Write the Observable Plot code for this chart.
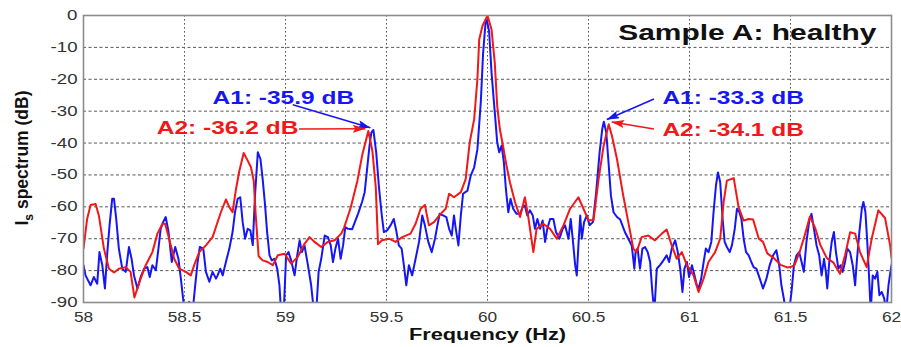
<!DOCTYPE html>
<html>
<head>
<meta charset="utf-8">
<script src="https://cdn.jsdelivr.net/npm/d3@7"></script>
<script src="https://cdn.jsdelivr.net/npm/@observablehq/plot@0.6"></script>
<style>
  body { margin: 0; background: #fff; }
  svg { display: block; }
</style>
</head>
<body>
<div id="chart"></div>
<script>
// Stator current spectrum around the 60 Hz fundamental, two measurements (A1 blue, A2 red)
const blueFreq = [
  58.000, 58.010, 58.035, 58.051, 58.068, 58.079, 58.093, 58.106, 58.118, 58.129, 58.142, 58.151, 58.162, 58.175, 58.192,
  58.209, 58.225, 58.238, 58.250, 58.267, 58.283, 58.300, 58.316, 58.328, 58.341, 58.358, 58.371, 58.382, 58.394, 58.407,
  58.421, 58.437, 58.454, 58.470, 58.482, 58.493, 58.503, 58.523, 58.540, 58.553, 58.565, 58.576, 58.593, 58.606, 58.623,
  58.639, 58.656, 58.664, 58.677, 58.689, 58.705, 58.722, 58.738, 58.750, 58.763, 58.776, 58.788, 58.800, 58.813, 58.826,
  58.838, 58.849, 58.863, 58.876, 58.887, 58.899, 58.909, 58.921, 58.932, 58.945, 58.959, 58.970, 58.978, 58.992, 59.003,
  59.015, 59.028, 59.045, 59.058, 59.070, 59.081, 59.094, 59.111, 59.127, 59.141, 59.152, 59.164, 59.177, 59.194, 59.210,
  59.224, 59.235, 59.247, 59.260, 59.273, 59.285, 59.296, 59.310, 59.330, 59.359, 59.379, 59.392, 59.404, 59.416, 59.425,
  59.435, 59.449, 59.462, 59.475, 59.487, 59.503, 59.520, 59.536, 59.548, 59.561, 59.575, 59.586, 59.598, 59.611, 59.627,
  59.644, 59.661, 59.677, 59.690, 59.707, 59.724, 59.740, 59.752, 59.763, 59.780, 59.796, 59.810, 59.823, 59.834, 59.843,
  59.856, 59.868, 59.879, 59.901, 59.917, 59.934, 59.950, 59.967, 59.978, 59.990, 59.997, 60.008, 60.020, 60.036, 60.048,
  60.058, 60.070, 60.081, 60.091, 60.103, 60.114, 60.127, 60.144, 60.161, 60.174, 60.185, 60.197, 60.210, 60.224, 60.235,
  60.247, 60.260, 60.273, 60.285, 60.296, 60.310, 60.326, 60.339, 60.356, 60.372, 60.384, 60.401, 60.412, 60.425, 60.434,
  60.442, 60.450, 60.459, 60.467, 60.478, 60.492, 60.505, 60.522, 60.538, 60.555, 60.568, 60.576, 60.588, 60.599, 60.611,
  60.624, 60.641, 60.657, 60.672, 60.680, 60.697, 60.714, 60.727, 60.733, 60.743, 60.755, 60.767, 60.780, 60.793, 60.805,
  60.816, 60.826, 60.838, 60.854, 60.871, 60.887, 60.899, 60.912, 60.929, 60.942, 60.954, 60.965, 60.975, 60.987, 60.998,
  61.012, 61.025, 61.036, 61.045, 61.058, 61.070, 61.081, 61.094, 61.108, 61.119, 61.131, 61.141, 61.152, 61.164, 61.174,
  61.185, 61.199, 61.210, 61.224, 61.235, 61.247, 61.257, 61.268, 61.280, 61.293, 61.306, 61.318, 61.331, 61.348, 61.364,
  61.381, 61.397, 61.414, 61.430, 61.444, 61.455, 61.467, 61.477, 61.493, 61.505, 61.517, 61.530, 61.543, 61.555, 61.566,
  61.579, 61.593, 61.604, 61.616, 61.629, 61.642, 61.654, 61.666, 61.675, 61.682, 61.692, 61.704, 61.715, 61.725, 61.737,
  61.748, 61.758, 61.770, 61.781, 61.795, 61.808, 61.820, 61.828, 61.841, 61.853, 61.861, 61.871, 61.881, 61.891, 61.897,
  61.907, 61.919, 61.930, 61.940, 61.952, 61.964, 61.974, 61.985, 61.997, 62.000
];
const blueDb = [
  -78.3, -81.5, -84.6, -82.0, -84.1, -74.2, -78.3, -85.6, -74.2, -65.8, -57.5, -57.5, -63.8, -73.1, -79.4,
  -80.4, -72.6, -76.3, -81.5, -85.6, -82.0, -79.4, -78.9, -82.0, -78.3, -79.9, -73.1, -66.9, -64.8, -63.2,
  -67.9, -77.3, -72.6, -76.3, -82.5, -88.8, -93.0, -89.8, -93.0, -84.6, -77.3, -72.6, -73.1, -80.4, -83.5,
  -80.4, -82.5, -81.5, -79.4, -81.5, -77.3, -73.1, -67.9, -61.7, -57.5, -57.0, -64.8, -70.0, -66.9, -67.4,
  -72.0, -56.5, -42.9, -45.0, -51.3, -59.6, -67.9, -75.2, -76.8, -76.3, -79.4, -84.6, -93.0, -92.0, -75.2,
  -74.2, -76.8, -81.5, -75.2, -70.5, -74.2, -72.1, -78.3, -84.6, -93.0, -93.0, -80.4, -76.3, -69.0, -69.5,
  -72.1, -77.3, -73.1, -70.0, -76.3, -72.1, -66.4, -66.9, -67.0, -62.2, -58.5, -55.4, -48.1, -40.8, -36.7,
  -35.9, -42.9, -53.3, -61.7, -67.9, -67.4, -65.8, -63.8, -67.4, -72.1, -73.1, -78.3, -84.6, -78.3, -81.5,
  -76.3, -71.0, -62.7, -65.8, -71.0, -74.2, -70.0, -65.8, -62.2, -62.7, -63.2, -66.9, -69.0, -62.7, -66.9,
  -72.1, -62.7, -55.9, -54.9, -50.2, -47.6, -42.0, -27.0, -12.0, -2.5, -1.5, -5.0, -17.9, -30.3, -39.8,
  -42.9, -40.8, -46.0, -54.4, -61.7, -57.5, -60.6, -62.2, -62.2, -60.1, -59.6, -62.7, -61.1, -62.7, -66.9,
  -63.8, -66.9, -64.3, -71.0, -66.9, -63.8, -63.8, -67.9, -70.0, -66.9, -65.8, -70.0, -63.8, -72.1, -78.3,
  -81.5, -72.1, -62.7, -70.0, -64.8, -62.7, -65.8, -64.8, -55.4, -42.9, -35.6, -33.3, -36.7, -46.0, -56.5,
  -61.7, -63.2, -64.0, -66.5, -67.9, -70.0, -72.1, -79.4, -74.2, -73.1, -79.4, -73.1, -72.6, -74.2, -77.3,
  -86.7, -93.0, -79.4, -78.3, -76.8, -75.2, -77.3, -73.1, -70.5, -74.2, -79.4, -86.7, -79.4, -77.3, -82.0,
  -78.3, -81.5, -84.6, -85.6, -82.5, -77.3, -73.1, -74.2, -71.0, -61.7, -53.3, -49.2, -52.3, -63.8, -71.0,
  -72.6, -74.2, -72.1, -66.9, -60.6, -61.7, -63.8, -70.0, -74.2, -75.2, -77.3, -79.0, -79.4, -82.5, -85.6,
  -82.5, -78.3, -75.2, -73.6, -78.3, -84.6, -88.8, -93.0, -93.0, -86.7, -78.3, -75.2, -74.2, -77.3, -80.4,
  -71.0, -64.3, -62.2, -66.9, -72.1, -75.2, -81.5, -76.3, -80.4, -85.6, -77.3, -71.0, -67.9, -74.2, -79.4,
  -78.3, -80.4, -77.3, -73.1, -74.2, -78.3, -84.6, -77.3, -67.9, -60.6, -58.5, -61.7, -72.1, -84.6, -93.0,
  -81.5, -82.5, -80.4, -87.7, -86.7, -88.8, -93.0, -84.6, -79.4, -78.3
];
const redFreq = [
  58.000, 58.018, 58.035, 58.060, 58.076, 58.101, 58.126, 58.151, 58.175, 58.209, 58.233, 58.252, 58.283, 58.308, 58.341,
  58.366, 58.391, 58.404, 58.424, 58.449, 58.474, 58.507, 58.531, 58.548, 58.573, 58.606, 58.639, 58.680, 58.705, 58.722,
  58.738, 58.755, 58.772, 58.793, 58.813, 58.829, 58.843, 58.852, 58.867, 58.887, 58.912, 58.937, 58.962, 58.995, 59.028,
  59.061, 59.094, 59.119, 59.144, 59.177, 59.210, 59.243, 59.276, 59.290, 59.323, 59.356, 59.381, 59.410, 59.430, 59.447,
  59.458, 59.478, 59.512, 59.545, 59.578, 59.619, 59.644, 59.669, 59.690, 59.710, 59.735, 59.768, 59.793, 59.810, 59.834,
  59.868, 59.892, 59.912, 59.934, 59.950, 59.959, 59.975, 60.000, 60.020, 60.036, 60.048, 60.061, 60.078, 60.094, 60.111,
  60.136, 60.161, 60.185, 60.202, 60.227, 60.243, 60.276, 60.310, 60.343, 60.376, 60.409, 60.450, 60.475, 60.500, 60.525,
  60.550, 60.575, 60.600, 60.616, 60.641, 60.672, 60.697, 60.722, 60.738, 60.763, 60.796, 60.829, 60.863, 60.887, 60.912,
  60.937, 60.962, 60.987, 61.020, 61.045, 61.070, 61.094, 61.127, 61.152, 61.169, 61.185, 61.219, 61.243, 61.268, 61.293,
  61.315, 61.343, 61.364, 61.385, 61.418, 61.451, 61.484, 61.500, 61.520, 61.546, 61.566, 61.596, 61.623, 61.648, 61.680,
  61.713, 61.745, 61.770, 61.795, 61.820, 61.844, 61.877, 61.902, 61.935, 61.968, 61.993, 62.000
];
const redDb = [
  -73.0, -63.8, -59.4, -59.1, -62.7, -73.1, -79.4, -80.6, -79.4, -78.9, -80.4, -88.4, -82.5, -78.3, -74.2,
  -68.4, -65.3, -65.3, -70.0, -76.3, -79.4, -80.4, -81.5, -78.3, -74.2, -72.1, -69.5, -61.7, -57.7, -60.1,
  -61.7, -54.4, -48.6, -43.1, -45.5, -47.6, -52.0, -62.0, -75.5, -76.8, -77.3, -78.3, -75.2, -74.7, -77.8,
  -75.7, -71.6, -69.5, -71.0, -72.6, -71.0, -70.5, -68.4, -66.5, -60.2, -51.8, -43.4, -36.2, -42.4, -53.9,
  -71.7, -70.5, -70.0, -71.0, -69.5, -68.4, -65.3, -60.6, -59.4, -65.8, -64.8, -62.2, -60.6, -55.9, -57.0,
  -55.4, -51.3, -39.8, -32.5, -20.0, -7.5, -3.3, 0.0, -4.4, -14.8, -28.3, -35.6, -41.3, -47.0, -52.3,
  -58.5, -63.2, -57.0, -63.2, -74.2, -66.9, -65.3, -66.9, -70.0, -65.8, -60.6, -57.0, -60.6, -64.2, -64.2,
  -51.3, -40.8, -34.1, -37.7, -45.0, -56.5, -64.8, -73.1, -74.2, -69.5, -69.0, -70.5, -68.4, -67.1, -72.1,
  -76.3, -74.2, -78.3, -81.5, -86.7, -82.5, -77.3, -74.2, -70.0, -58.5, -51.8, -51.0, -60.1, -64.3, -63.8,
  -64.0, -70.0, -71.0, -74.6, -76.1, -78.2, -79.0, -78.9, -78.3, -74.0, -69.9, -63.0, -66.8, -72.0, -76.1,
  -77.5, -81.0, -75.2, -68.0, -68.4, -74.2, -78.9, -70.0, -61.1, -63.5, -72.0, -76.0
];

const xTicks = [58, 58.5, 59, 59.5, 60, 60.5, 61, 61.5, 62];
const yTicks = [0, -10, -20, -30, -40, -50, -60, -70, -80, -90];

// Sideband peaks called out with arrows
const peakName = ["A1", "A2", "A1", "A2"];
const peakFreq = [59.435, 59.41, 60.576, 60.6];
const peakDb = [-35.9, -36.2, -33.3, -34.1];
const labelFreq = [58.639, 58.363, 60.866, 60.866];
const labelDb = [-27.8, -37.2, -27.8, -37.7];
const tailFreq = [59.036, 59.067, 60.824, 60.824];
const tailDb = [-28.0, -35.6, -26.2, -35.6];

const title = "Sample A: healthy";
const xLabel = "Frequency (Hz)";

const BLUE = "#1616f5";
const RED = "#f01818";
const seriesColor = {A1: BLUE, A2: RED};

const blue = blueFreq.map((f, i) => ({f, db: blueDb[i]}));
const red = redFreq.map((f, i) => ({f, db: redDb[i]}));
const peaks = peakName.map((name, i) => {
  const side = labelFreq[i] < peakFreq[i] ? -1 : 1;
  return {
    label: `${name}: ${peakDb[i].toFixed(1)} dB`,
    color: seriesColor[name],
    lf: labelFreq[i], ld: labelDb[i],
    tf: tailFreq[i], td: tailDb[i],
    hf: peakFreq[i] + side * 0.015, hd: peakDb[i] + 0.7
  };
});

const plot = Plot.plot({
  width: 901,
  height: 347,
  marginLeft: 83,
  marginRight: 10,
  marginTop: 15,
  marginBottom: 45,
  style: {fontFamily: "'Liberation Sans', Arial, sans-serif", fontSize: "14px", color: "#333", background: "#fff"},
  x: {domain: [58, 62], ticks: xTicks, tickSize: 0, tickPadding: 9, tickFormat: d => String(d), label: null},
  y: {domain: [-90, 0], ticks: yTicks, tickSize: 0, tickPadding: 6, tickFormat: d => String(d), label: null},
  color: {type: "identity"},
  marks: [
    Plot.ruleX(xTicks.slice(1, -1), {stroke: "#555", strokeWidth: 1, strokeDasharray: "1.6,2.4"}),
    Plot.ruleY(yTicks.slice(1, -1), {stroke: "#555", strokeWidth: 1, strokeDasharray: "3,2.5"}),
    Plot.line(blue, {x: "f", y: "db", stroke: BLUE, strokeWidth: 2, clip: true}),
    Plot.line(red, {x: "f", y: "db", stroke: RED, strokeWidth: 2, clip: true}),
    Plot.frame({stroke: "#8c8c8c", strokeWidth: 1.6}),
    Plot.link(peaks, {x1: "tf", y1: "td", x2: "hf", y2: "hd", stroke: "color", strokeWidth: 1.6}),
    Plot.text(peaks, {x: "lf", y: "ld", text: "label", fill: "color", textAnchor: "start", lineAnchor: "bottom", fontSize: 18, fontWeight: "bold"}),
    Plot.text([title], {text: d => d, frameAnchor: "top-right", dx: -15, dy: 24.6, textAnchor: "end", lineAnchor: "bottom", fontSize: 22, fontWeight: "bold", fill: "#111"}),
    Plot.text([xLabel], {text: d => d, frameAnchor: "bottom", dy: 37.5, lineAnchor: "bottom", fontSize: 16, fontWeight: "bold", fill: "#111"})
  ]
});

document.getElementById("chart").append(plot);

const svg = d3.select(plot);

// Filled arrowheads for the callout links
const defs = svg.insert("defs", ":first-child");
for (const [name, color] of Object.entries(seriesColor)) {
  defs.append("marker")
    .attr("id", `head-${name}`)
    .attr("markerUnits", "userSpaceOnUse")
    .attr("viewBox", "0 0 13 8")
    .attr("markerWidth", 13)
    .attr("markerHeight", 8)
    .attr("refX", 12.5)
    .attr("refY", 4)
    .attr("orient", "auto")
    .append("path")
    .attr("d", "M0,0L13,4L0,8L2.5,4Z")
    .attr("fill", color);
}
svg.selectAll('g[aria-label="link"] path').each(function () {
  const stroke = (this.getAttribute("stroke") || "").toLowerCase();
  const name = stroke === RED.toLowerCase() ? "A2" : "A1";
  this.setAttribute("marker-end", `url(#head-${name})`);
});

// Wide lettering: stretch text horizontally
svg.selectAll("text").each(function () {
  const yAxis = this.closest('[aria-label^="y-axis"]');
  const xAxis = this.closest('[aria-label^="x-axis"]');
  let k = 1.36;
  if (yAxis) { this.style.fontSize = "14px"; k = 1.33; }
  else if (xAxis) { this.style.fontSize = "15px"; k = 1.15; }
  const w = this.getComputedTextLength();
  if (w > 0) {
    this.setAttribute("textLength", (w * k).toFixed(1));
    this.setAttribute("lengthAdjust", "spacingAndGlyphs");
  }
});

// Vertical axis title with subscript
const yTitle = svg.append("text")
  .attr("transform", "translate(28,158) rotate(-90)")
  .attr("text-anchor", "middle")
  .attr("font-weight", "bold")
  .attr("font-size", 17.5)
  .attr("fill", "#111");
yTitle.append("tspan").text("I");
yTitle.append("tspan").attr("font-size", 12).attr("dy", 5).text("s");
yTitle.append("tspan").attr("dy", -5).text(" spectrum (dB)");
</script>
</body>
</html>
